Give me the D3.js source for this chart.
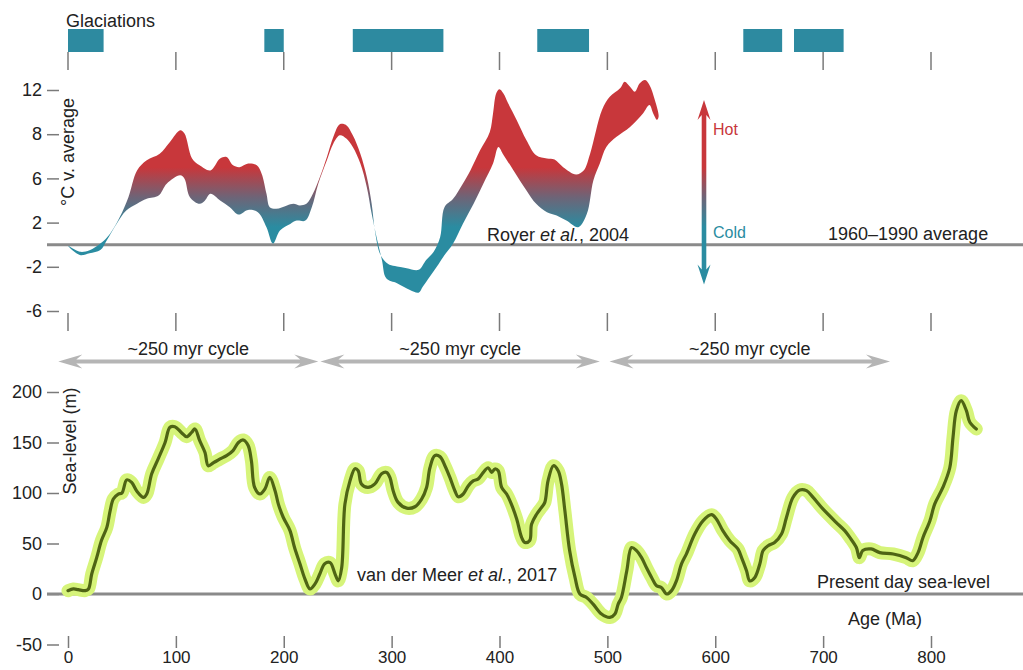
<!DOCTYPE html>
<html>
<head>
<meta charset="utf-8">
<script src="https://cdn.jsdelivr.net/npm/d3@7/dist/d3.min.js"></script>
<style>
  html, body { margin: 0; padding: 0; background: #fff; }
  svg { display: block; font-family: "Liberation Sans", Arial, Helvetica, sans-serif; }
</style>
</head>
<body>
<svg id="chart" width="1023" height="670"></svg>
<script>
// ---- data ---------------------------------------------------------------
const ageTicks = [0, 100, 200, 300, 400, 500, 600, 700, 800];
const tempTicks = [-6, -2, 2, 6, 8, 12];
const seaTicks = [-50, 0, 50, 100, 150, 200];

// Glaciation intervals (Ma)
const glacStart = [0, 182, 264, 435, 626, 673];
const glacEnd   = [33, 200, 348, 483, 662, 719];

// ~250 myr cycles (Ma)
const cycleStart = [-9, 234, 502];
const cycleEnd   = [232, 493, 762];

// Temperature envelope, upper bound [age Ma, °C]
const tempUpper = [[0,-0.1],[11,-0.64],[20,-0.5],[30,0.1],[39,1.0],[48,2.5],[56,4.3],[64,6.36],[73,6.82],[85,7.12],[94.5,7.65],[104,8.36],[108,8.06],[115,6.9],[122,6.59],[132,6.36],[141,6.9],[147,6.97],[153,6.59],[159,6.51],[167,6.67],[175,6.59],[179.5,6.21],[184,4.6],[187,3.4],[193,3.25],[203,3.55],[209,3.7],[215,3.55],[221,3.7],[227,4.6],[233.5,6.06],[240,6.97],[246,7.88],[252,8.9],[258,8.82],[264,7.95],[271,7.12],[277,6.06],[281.5,3.7],[284.5,1.29],[289,-0.78],[294,-1.53],[298,-1.82],[305,-1.97],[314,-2.12],[325,-2.27],[332,-1.38],[339,-0.64],[345,0.69],[349,3.39],[357,4.15],[366,5.52],[373,6.36],[382,7.27],[391,8.21],[394,9.88],[397,11.7],[400,12.06],[403.5,11.7],[408,10.8],[416,9.27],[425,7.73],[434,7.05],[444,6.9],[451,6.85],[459,6.51],[471,6.18],[478,6.36],[484,7.12],[495,10.18],[502,11.36],[512,12.18],[516,12.75],[521,12.3],[525.5,11.85],[530,12.6],[535,12.9],[539,12.45],[544,11.1],[547.5,9.6]];

// Temperature envelope, lower bound [age Ma, °C]
const tempLower = [[11,-0.93],[20,-0.78],[30,-0.49],[36,0.4],[45,1.88],[54,3.09],[64,3.7],[73,4.15],[84,4.45],[91.5,5.52],[104,6.14],[108,5.97],[113,4.3],[122,3.7],[127,4.0],[132,4.6],[141,4.0],[150,3.39],[158,2.73],[167,3.15],[176,2.94],[184,1.58],[190,0.1],[196.5,1.29],[206,1.88],[212,2.18],[220,2.18],[226,3.39],[232,5.52],[240,6.82],[246,7.58],[252,7.95],[258,7.8],[264,7.42],[271,6.67],[277,5.21],[281.5,2.79],[286,0.69],[291,-1.38],[295,-3.03],[305,-3.48],[317,-4.09],[325,-4.34],[329,-3.79],[335.5,-2.88],[342,-1.97],[348,-1.08],[357,0.11],[366,1.88],[376,3.7],[385,5.52],[394,6.67],[399,7.42],[403,7.12],[413,6.36],[425,4.91],[434,3.7],[444,2.94],[453,2.64],[462,2.18],[473,1.58],[481,2.79],[487,5.82],[493,6.67],[499,7.42],[508.5,7.88],[521,8.66],[533,9.88],[539,10.64],[542.5,9.88],[546,9.3]];

// Sea level [age Ma, m]
const seaLevel = [[0,3.3],[5,5],[9.5,4.3],[16,3.3],[19,5],[22,19.8],[26.6,36],[31,53],[36,66],[39,82],[42,94],[46.6,99],[50,100],[54.4,113],[59,110.5],[63.7,102],[70,95.6],[73,99],[77.6,119],[83.7,134],[90,150],[94.5,165],[99,165.6],[105,160],[110,155.7],[114.6,160],[117.7,163.4],[122,152],[127,140],[130,127],[135,130],[141,133.7],[147,137],[153,142],[158,150],[162.5,152.5],[167,147],[170,132],[173,105.5],[178,99],[182.6,104],[187,115.4],[192,102],[195,89],[199.5,76],[205.7,63],[210,46],[215,30],[219.6,15],[224.3,5],[229,10],[233.5,20],[238,30],[243,31],[247.5,20],[250.5,13],[253.7,26],[256.7,89],[261.4,112],[266,124],[269,122],[272,109],[278,105.5],[284.5,109],[290.7,119],[295.4,120.4],[298.4,115.4],[301.5,102],[306,90.7],[314,85],[321.6,86.4],[327.8,94],[332.4,105.5],[335.5,125],[340,137],[344.8,136],[349.4,127],[354,115.4],[358.7,102],[361.7,96.3],[366.4,99],[371,107],[375.6,112],[380.3,114],[385,120.4],[389.5,125],[392.7,120.4],[395.7,123.8],[398.8,122],[402,105.5],[406.6,99],[411,89],[416,74],[420.5,56],[423.5,51],[428,53],[429.7,69],[434.4,79],[439,85.7],[442,90.7],[445,112],[450,127],[454.4,122],[457.5,109],[460.6,82.5],[465,43],[470,16.4],[474.5,0],[480.7,-3.4],[486.8,-10],[494.6,-19.8],[502.3,-23.2],[507,-19.8],[510,-10],[513,-3.4],[518,23],[522.4,46],[527,43],[531.7,36],[536.3,26],[541,16.4],[545.6,8.2],[550,6.5],[555,0],[559.5,3.3],[564,13],[568.8,30],[573.4,40],[581,59.4],[588.8,72.6],[596.6,78.5],[601,74.3],[607,62.7],[613.5,52.8],[621,44.6],[624.4,36],[629,23],[632,13],[636.7,16.4],[641.3,29.7],[644.4,43],[649,47.8],[655,51],[661.4,59.4],[666,75.8],[672,95.6],[678.4,103],[684.6,102.3],[690.7,95.6],[700,84],[712,71],[720,62.7],[724.7,56],[730.8,46],[733.6,36],[736.7,43],[744.5,44.6],[752.5,41],[765,39.6],[777,36],[783,33],[788,41],[792.6,56],[799,72.6],[803.4,89],[811,105.5],[817.4,125],[820.4,155],[823.5,181.5],[828,191.4],[832.8,181.5],[836,170],[842,163.4]];

// ---- layout & scales -------------------------------------------------------
const W = 1023, H = 670;
const svg = d3.select("#chart");
const textColor = "#222";
const axisGrey = "#7a7a7a";
const hotRed = "#c8373b", coldTeal = "#2a8ca1", glacTeal = "#2d8aa0";

const x = d3.scaleLinear().domain([0, 800]).range([68, 931]);

// temperature axis: ticks evenly spaced
const tTop = 90, tBottom = 311;
const yT = d3.scaleLinear()
  .domain(tempTicks)
  .range(tempTicks.map((d, i) => tBottom - i * (tBottom - tTop) / (tempTicks.length - 1)));

const yS = d3.scaleLinear().domain([-50, 200]).range([644.5, 392]);

// ---- gradient (hot → cold) ---------------------------------------------------
const defs = svg.append("defs");
const grad = defs.append("linearGradient")
  .attr("id", "heat")
  .attr("gradientUnits", "userSpaceOnUse")
  .attr("x1", 0).attr("x2", 0)
  .attr("y1", yT(6.5)).attr("y2", yT(1.6));
grad.append("stop").attr("offset", 0).attr("stop-color", hotRed);
grad.append("stop").attr("offset", 0.5).attr("stop-color", "#6e6477");
grad.append("stop").attr("offset", 1).attr("stop-color", coldTeal);

// ---- glaciations -------------------------------------------------------------
svg.append("text")
  .attr("x", 66).attr("y", 27)
  .attr("font-size", 18).attr("fill", textColor)
  .text("Glaciations");

svg.append("g").selectAll("rect")
  .data(glacStart.map((s, i) => [s, glacEnd[i]]))
  .join("rect")
  .attr("x", d => x(d[0]))
  .attr("width", d => x(d[1]) - x(d[0]))
  .attr("y", 29).attr("height", 23)
  .attr("fill", glacTeal);

// vertical age ticks above and below the temperature panel
[[52, 70], [313, 331]].forEach(([a, b]) => {
  svg.append("g").selectAll("line")
    .data(ageTicks)
    .join("line")
    .attr("x1", d => x(d)).attr("x2", d => x(d))
    .attr("y1", a).attr("y2", b)
    .attr("stroke", axisGrey).attr("stroke-width", 1.5);
});

// ---- temperature panel ---------------------------------------------------------
const tAxis = svg.append("g")
  .attr("transform", "translate(59,0)")
  .call(d3.axisLeft(yT).tickValues(tempTicks).tickSize(12).tickPadding(5).tickFormat(d => String(d)));
tAxis.select(".domain").remove();
tAxis.selectAll(".tick line").attr("stroke", axisGrey).attr("stroke-width", 1.5);
tAxis.selectAll(".tick text").attr("font-size", 18).attr("fill", textColor)
  .attr("font-family", "Liberation Sans, Arial, sans-serif");

svg.append("text")
  .attr("transform", `translate(74,152) rotate(-90)`)
  .attr("text-anchor", "middle")
  .attr("font-size", 18).attr("fill", textColor)
  .text("°C v. average");

// reference line (1960–1990 average)
svg.append("line")
  .attr("x1", 47).attr("x2", W)
  .attr("y1", yT(0)).attr("y2", yT(0))
  .attr("stroke", "#8a8a8a").attr("stroke-width", 3);

// envelope band
const bandPts = tempUpper.concat(tempLower.slice().reverse());
const bandLine = d3.line()
  .x(d => x(d[0])).y(d => yT(d[1]))
  .curve(d3.curveCatmullRomClosed.alpha(0.5));
svg.append("path")
  .attr("d", bandLine(bandPts))
  .attr("fill", "url(#heat)");

// hot / cold double arrow
function vArrow(cx, yTop, yBot, L, hw, sw, n) {
  return `M${cx},${yTop} L${cx + hw},${yTop + L} L${cx + sw},${yTop + L - n} ` +
    `L${cx + sw},${yBot - L + n} L${cx + hw},${yBot - L} L${cx},${yBot} ` +
    `L${cx - hw},${yBot - L} L${cx - sw},${yBot - L + n} L${cx - sw},${yTop + L - n} ` +
    `L${cx - hw},${yTop + L} Z`;
}
svg.append("path")
  .attr("d", vArrow(704, yT(11.1), yT(-3.6), 20, 6.5, 2.3, 5))
  .attr("fill", "url(#heat)");

svg.append("text").attr("x", 713).attr("y", 135)
  .attr("font-size", 16).attr("fill", hotRed).text("Hot");
svg.append("text").attr("x", 713).attr("y", 238)
  .attr("font-size", 16).attr("fill", coldTeal).text("Cold");

const royer = svg.append("text").attr("x", 487).attr("y", 241)
  .attr("font-size", 18).attr("fill", textColor);
royer.append("tspan").text("Royer ");
royer.append("tspan").attr("font-style", "italic").text("et al.");
royer.append("tspan").text(", 2004");

svg.append("text").attr("x", 828).attr("y", 240)
  .attr("font-size", 18).attr("fill", textColor)
  .text("1960–1990 average");

// ---- ~250 myr cycle arrows ------------------------------------------------------
function hArrow(xa, xb, cy, L, hh, sh, n) {
  return `M${xa},${cy} L${xa + L},${cy - hh} L${xa + L - n},${cy - sh} ` +
    `L${xb - L + n},${cy - sh} L${xb - L},${cy - hh} L${xb},${cy} ` +
    `L${xb - L},${cy + hh} L${xb - L + n},${cy + sh} L${xa + L - n},${cy + sh} ` +
    `L${xa + L},${cy + hh} Z`;
}
const cycles = cycleStart.map((s, i) => [s, cycleEnd[i]]);
const cyc = svg.append("g");
cyc.selectAll("path")
  .data(cycles)
  .join("path")
  .attr("d", d => hArrow(x(d[0]), x(d[1]), 361.5, 24, 7, 2, 6))
  .attr("fill", "#b5b5b5");
cyc.selectAll("text")
  .data(cycles)
  .join("text")
  .attr("x", d => x((d[0] + d[1]) / 2))
  .attr("y", 355)
  .attr("text-anchor", "middle")
  .attr("font-size", 18).attr("fill", textColor)
  .text("~250 myr cycle");

// ---- sea-level panel ------------------------------------------------------------
const sAxis = svg.append("g")
  .attr("transform", "translate(59,0)")
  .call(d3.axisLeft(yS).tickValues(seaTicks).tickSize(12).tickPadding(5).tickFormat(d => String(d)));
sAxis.select(".domain").remove();
sAxis.selectAll(".tick line").attr("stroke", axisGrey).attr("stroke-width", 1.5);
sAxis.selectAll(".tick text").attr("font-size", 18).attr("fill", textColor)
  .attr("font-family", "Liberation Sans, Arial, sans-serif");

svg.append("text")
  .attr("transform", `translate(76,441) rotate(-90)`)
  .attr("text-anchor", "middle")
  .attr("font-size", 18).attr("fill", textColor)
  .text("Sea-level (m)");

svg.append("line")
  .attr("x1", 47).attr("x2", W)
  .attr("y1", yS(0)).attr("y2", yS(0))
  .attr("stroke", "#8a8a8a").attr("stroke-width", 3);

const seaLine = d3.line()
  .x(d => x(d[0])).y(d => yS(d[1]))
  .curve(d3.curveCatmullRom.alpha(0.5));
svg.append("path")
  .attr("d", seaLine(seaLevel))
  .attr("fill", "none")
  .attr("stroke", "#d6f47a")
  .attr("stroke-width", 13)
  .attr("stroke-linecap", "round")
  .attr("stroke-linejoin", "round");
svg.append("path")
  .attr("d", seaLine(seaLevel))
  .attr("fill", "none")
  .attr("stroke", "#4e6414")
  .attr("stroke-width", 3.2)
  .attr("stroke-linecap", "round")
  .attr("stroke-linejoin", "round");

const meer = svg.append("text").attr("x", 357).attr("y", 581)
  .attr("font-size", 18).attr("fill", textColor);
meer.append("tspan").text("van der Meer ");
meer.append("tspan").attr("font-style", "italic").text("et al.");
meer.append("tspan").text(", 2017");

svg.append("text").attr("x", 817).attr("y", 588)
  .attr("font-size", 18).attr("fill", textColor)
  .text("Present day sea-level");

svg.append("text").attr("x", 848).attr("y", 625)
  .attr("font-size", 18).attr("fill", textColor)
  .text("Age (Ma)");

// bottom age axis
const xAxis = svg.append("g")
  .attr("transform", "translate(0,636)")
  .call(d3.axisBottom(x).tickValues(ageTicks).tickSize(12).tickPadding(3).tickFormat(d => String(d)));
xAxis.select(".domain").remove();
xAxis.selectAll(".tick line").attr("stroke", axisGrey).attr("stroke-width", 1.5);
xAxis.selectAll(".tick text").attr("font-size", 17).attr("fill", textColor)
  .attr("font-family", "Liberation Sans, Arial, sans-serif");
</script>
</body>
</html>
